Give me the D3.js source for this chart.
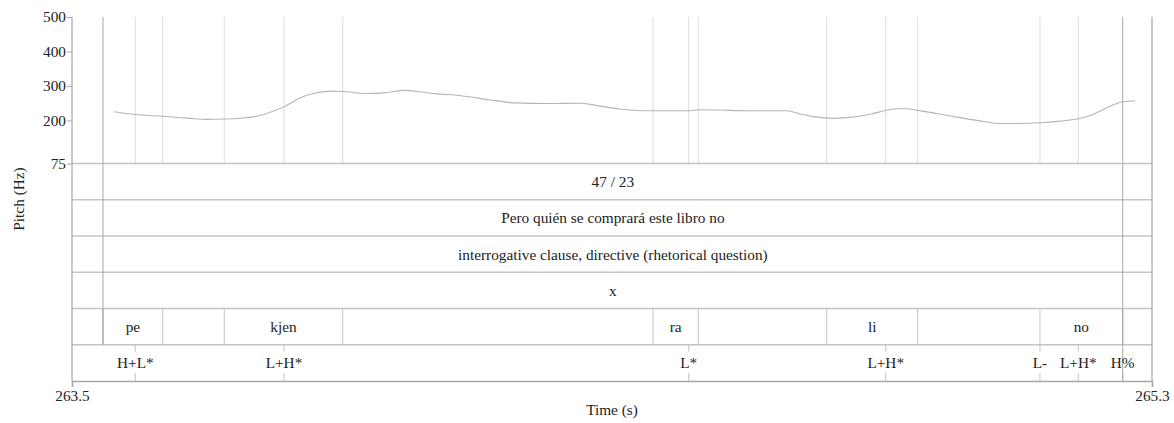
<!DOCTYPE html>
<html>
<head>
<meta charset="utf-8">
<script src="https://cdn.jsdelivr.net/npm/d3@7"></script>
<style>
  html, body { margin: 0; padding: 0; background: #fff; }
</style>
</head>
<body>
<svg id="chart" width="1174" height="423"></svg>
<script>
// Pitch track (time in s, F0 in Hz)
const pitchTime = [263.570, 263.606, 263.651, 263.697, 263.724, 263.754, 263.786, 263.813, 263.836,
  263.854, 263.880, 263.908, 263.930, 263.952, 263.991, 264.019, 264.055, 264.080, 264.108,
  264.141, 264.169, 264.197, 264.213, 264.235, 264.291, 264.347, 264.375, 264.413, 264.452,
  264.480, 264.528, 264.547, 264.580, 264.625, 264.691, 264.713, 264.736, 264.769, 264.791,
  264.831, 264.856, 264.875, 264.891, 264.910, 264.941, 264.980, 265.019, 265.047, 265.075,
  265.113, 265.147, 265.177, 265.197, 265.219, 265.241, 265.251, 265.272];
const pitchHz = [225, 217, 212, 206, 203, 204, 207, 214, 227,
  240, 265, 280, 285, 284, 278, 280, 287, 283, 277,
  273, 267, 259, 256, 251, 249, 250, 243, 233, 228,
  228, 228, 231, 230, 228, 228, 219, 211, 206, 208,
  218, 229, 234, 234, 229, 220, 208, 197, 191, 191,
  193, 198, 205, 214, 232, 249, 254, 257];

// Axis ranges and ticks
const timeDomain = [263.5, 265.3];
const hzDomain = [75, 500];
const hzTicks = [75, 200, 300, 400, 500];

// Interval tiers spanning the whole utterance
const utterStart = 263.5517, utterEnd = 265.2512;
const phraseTiers = ["47 / 23", "Pero quién se comprará este libro no",
  "interrogative clause, directive (rhetorical question)", "x"];

// Syllable tier: labelled intervals
const sylStart = [263.5517, 263.7538, 264.4683, 264.7578, 265.1133];
const sylEnd   = [263.6512, 263.9512, 264.5438, 264.9095, 265.2512];
const sylText  = ["pe", "kjen", "ra", "li", "no"];

// Tone tier: labelled points
const toneTime = [263.6055, 263.8533, 264.5278, 264.8562, 265.1133, 265.1772, 265.2512];
const toneText = ["H+L*", "L+H*", "L*", "L+H*", "L-", "L+H*", "H%"];

(function () {
  const svg = d3.select("#chart");
  const serif = "'Liberation Serif', serif";
  const fontPx = 15.3;
  const mL = 72, mR = 1152, mT = 17, pitchBottom = 163.5, mB = 381;
  const rowH = (mB - pitchBottom) / 6;

  const x = d3.scaleLinear().domain(timeDomain).range([mL, mR]);
  const y = d3.scaleLinear().domain(hzDomain).range([pitchBottom, mT]);

  const light = "#dcdcdc", mid = "#c4c4c4", dark = "#a8a8a8";
  const isEdge = d => d === utterStart || d === utterEnd;

  const font = sel => sel.style("font-family", serif).style("font-size", fontPx + "px").attr("fill", "#222");

  // Boundary lines through the pitch panel
  const allMarks = Array.from(new Set([utterStart, utterEnd, ...sylStart, ...sylEnd, ...toneTime]));
  svg.append("g").selectAll("line").data(allMarks).join("line")
    .attr("x1", d => x(d)).attr("x2", d => x(d))
    .attr("y1", mT).attr("y2", pitchBottom)
    .attr("stroke", d => isEdge(d) ? dark : light)
    .attr("stroke-width", 1);

  // Pitch curve
  const line = d3.line().x((d, i) => x(pitchTime[i])).y(d => y(d)).curve(d3.curveMonotoneX);
  svg.append("path").datum(pitchHz)
    .attr("d", line).attr("fill", "none")
    .attr("stroke", "#b4b4b4").attr("stroke-width", 1.1);

  // Tier horizontal lines
  const rowYs = d3.range(0, 7).map(i => pitchBottom + i * rowH);
  svg.append("g").selectAll("line").data(rowYs.slice(0, 6)).join("line")
    .attr("x1", mL).attr("x2", mR)
    .attr("y1", d => d).attr("y2", d => d)
    .attr("stroke", mid).attr("stroke-width", 1.6);

  // Utterance-wide boundaries through all tiers
  svg.append("g").selectAll("line").data([utterStart, utterEnd]).join("line")
    .attr("x1", d => x(d)).attr("x2", d => x(d))
    .attr("y1", pitchBottom).attr("y2", rowYs[5])
    .attr("stroke", dark).attr("stroke-width", 1);

  const label = sel => sel
    .attr("text-anchor", "middle").attr("dominant-baseline", "central")
    .call(font);

  // Phrase tier labels
  svg.append("g").selectAll("text").data(phraseTiers).join("text")
    .attr("x", x((utterStart + utterEnd) / 2))
    .attr("y", (d, i) => rowYs[i] + rowH / 2)
    .call(label)
    .text(d => d);

  // Syllable boundaries and labels
  const sylBounds = Array.from(new Set([...sylStart, ...sylEnd]));
  svg.append("g").selectAll("line").data(sylBounds).join("line")
    .attr("x1", d => x(d)).attr("x2", d => x(d))
    .attr("y1", rowYs[4]).attr("y2", rowYs[5])
    .attr("stroke", d => isEdge(d) ? dark : mid)
    .attr("stroke-width", 1);
  svg.append("g").selectAll("text").data(sylText).join("text")
    .attr("x", (d, i) => x((sylStart[i] + sylEnd[i]) / 2))
    .attr("y", rowYs[4] + rowH / 2)
    .call(label)
    .text(d => d);

  // Tone points: short ticks at top and bottom of the row
  const toneG = svg.append("g");
  toneG.selectAll("line.t").data(toneTime).join("line").attr("class", "t")
    .attr("x1", d => x(d)).attr("x2", d => x(d))
    .attr("y1", rowYs[5]).attr("y2", d => d === utterEnd ? rowYs[6] : rowYs[5] + 7)
    .attr("stroke", d => d === utterEnd ? dark : mid);
  toneG.selectAll("line.b").data(toneTime).join("line").attr("class", "b")
    .attr("x1", d => x(d)).attr("x2", d => x(d))
    .attr("y1", rowYs[6] - 8).attr("y2", rowYs[6])
    .attr("stroke", d => d === utterEnd ? dark : mid);
  toneG.selectAll("text").data(toneText).join("text")
    .attr("x", (d, i) => x(toneTime[i]))
    .attr("y", rowYs[5] + rowH / 2)
    .call(label)
    .text(d => d);

  // Frame: left and right edges
  svg.append("line").attr("x1", mL).attr("x2", mL).attr("y1", mT).attr("y2", mB)
    .attr("stroke", dark).attr("stroke-width", 1.2);
  svg.append("line").attr("x1", mR).attr("x2", mR).attr("y1", mT).attr("y2", mB)
    .attr("stroke", dark).attr("stroke-width", 1.2);

  // Y axis
  const yAxis = svg.append("g").attr("transform", `translate(${mL},0)`)
    .call(d3.axisLeft(y).tickValues(hzTicks).tickSize(5).tickPadding(1).tickFormat(d3.format("d")));
  yAxis.select(".domain").remove();
  yAxis.selectAll(".tick line").attr("stroke", dark);
  yAxis.selectAll(".tick text").call(font);

  // X axis: only the two end values
  const xAxis = svg.append("g").attr("transform", `translate(0,${mB})`)
    .call(d3.axisBottom(x).tickValues(timeDomain).tickSize(6).tickPadding(3).tickFormat(d3.format(".1f")));
  xAxis.select(".domain").attr("stroke", dark).attr("stroke-width", 1.6);
  xAxis.selectAll(".tick line").attr("stroke", dark);
  xAxis.selectAll(".tick text").call(font);

  // Axis titles
  svg.append("text").attr("x", (mL + mR) / 2).attr("y", 415)
    .attr("text-anchor", "middle").call(font)
    .text("Time (s)");
  svg.append("text")
    .attr("transform", `translate(23.5,199) rotate(-90)`)
    .attr("text-anchor", "middle").call(font)
    .text("Pitch (Hz)");
})();
</script>
</body>
</html>
